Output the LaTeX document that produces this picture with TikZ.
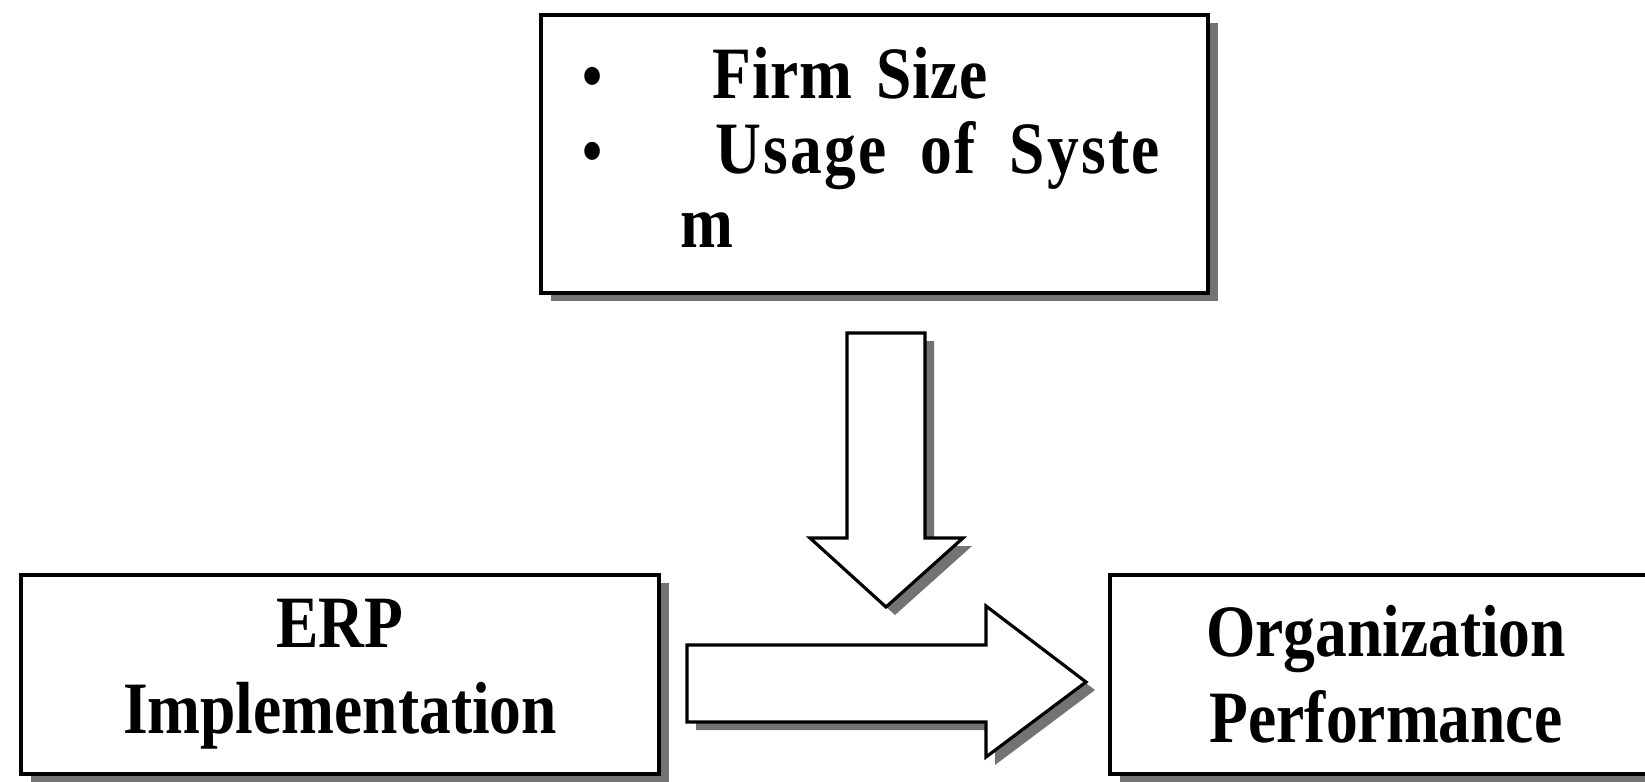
\documentclass[tikz,border=0pt]{standalone}
\usepackage{fontspec}
\setmainfont{Liberation Serif}[FakeStretch=0.86]
\usetikzlibrary{positioning, shadows}

\tikzset{
  % riquadri con ombra grigia in basso a destra
  riquadro/.style={draw=black, line width=1.1pt, fill=white, inner sep=0pt, align=center,
    font=\fontsize{21}{24.5}\selectfont\bfseries,
    drop shadow={shadow xshift=0.1cm, shadow yshift=-0.08cm, fill=black!55, opacity=1}},
  voce/.style={inner sep=0pt, anchor=base west, font=\fontsize{21}{24}\selectfont\bfseries},
  pallino/.style={inner sep=0pt, anchor=base, font=\fontsize{19}{24}\selectfont\bfseries},
  freccione/.style={draw=black, line width=0.9pt, fill=white, line join=miter,
    drop shadow={shadow xshift=0.09cm, shadow yshift=-0.08cm, fill=black!55, opacity=1}},
}

\begin{document}
\begin{tikzpicture}[x=0.01cm, y=-0.01cm]

        % Area del disegno (il riquadro a destra esce dal bordo)
        \useasboundingbox (0,0) rectangle (1645,781);
        \clip (0,0) rectangle (1645,781);

        % ==========================================
        % IN ALTO: Variabili moderatrici
        % ==========================================

        \node[riquadro, minimum width=6.67cm, minimum height=2.78cm] (moderatori) at (874.5,154) {};

        \node[pallino] (p1) at (593,98) {•};
        \node[voce] (dimensione) at (712,98) {\addfontfeatures{LetterSpace=1}Firm\hspace{0.24cm}Size};
        \node[pallino] (p2) at (593,173) {•};
        \node[voce] (utilizzo) at (715,173) {\addfontfeatures{LetterSpace=3}Usage\hspace{0.34cm}of\hspace{0.34cm}Syste};
        \node[voce] (resto) at (680,247) {m};

        % ==========================================
        % IN BASSO: Variabile indipendente e dipendente
        % ==========================================

        \node[riquadro, minimum width=6.38cm, minimum height=1.99cm] (erp) at (340,674.5) {ERP\\Implementation};
        \node[riquadro, minimum width=5.52cm, minimum height=1.99cm] (prestazioni) at (1386,674.5) {Organization\\Performance};

        % ==========================================
        % FRECCE PIENE
        % ==========================================

        % Sagome delle frecce, riutilizzate per il disegno
        \def\frecciagiu{
            (847,333) -- (925,333) -- (925,538) -- (963,538) --
            (886,607) -- (810,538) -- (847,538) -- cycle
        }
        \def\frecciadestra{
            (687,645) -- (986,645) -- (986,606) -- (1086,682) --
            (986,757) -- (986,722) -- (687,722) -- cycle
        }

        \draw[freccione] \frecciagiu;
        \draw[freccione] \frecciadestra;

\end{tikzpicture}
\end{document}
